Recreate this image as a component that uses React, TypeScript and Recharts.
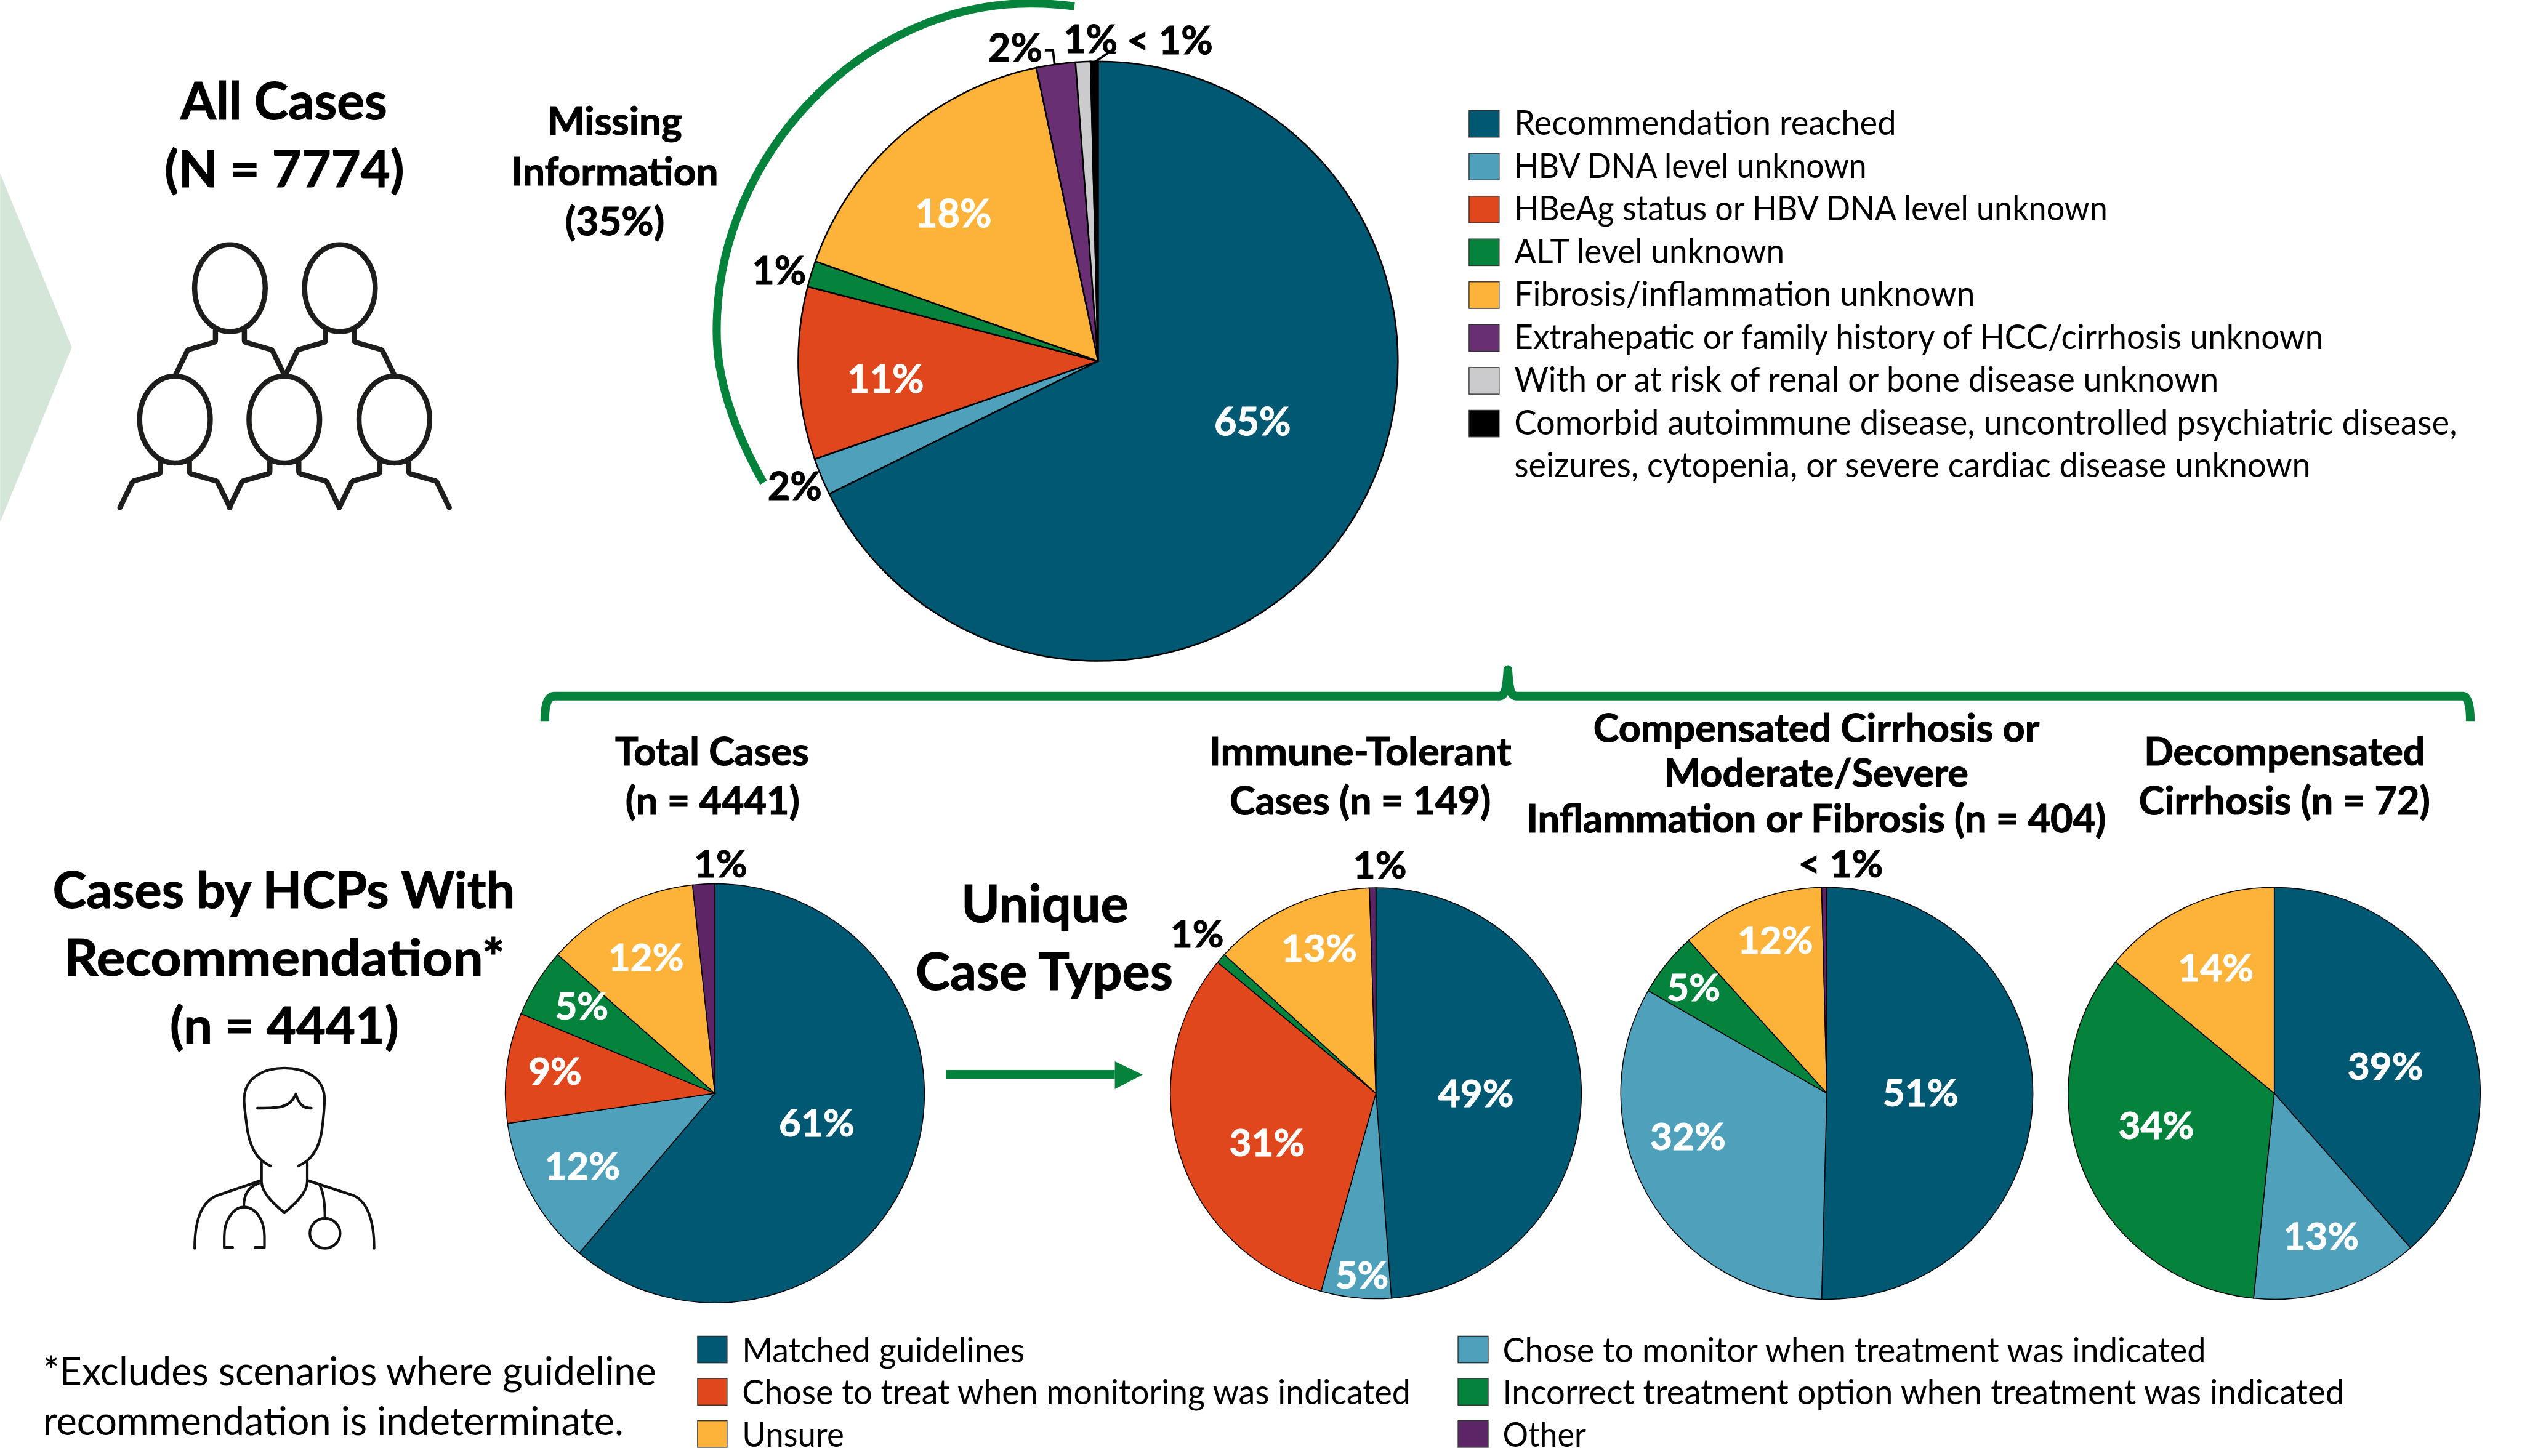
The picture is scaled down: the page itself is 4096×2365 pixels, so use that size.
import { PieChart, Pie, Cell } from "recharts";

const WIDTH = 4096;
const HEIGHT = 2365;
// everything below was measured on the 4357 wide reference
const S = 4096 / 4357;
const FONT = "Lato, 'Open Sans', sans-serif";

const DARK = "#015873";
const BLUE = "#4ea0bb";
const RED = "#e0471d";
const GREEN = "#05833c";
const AMBER = "#fdb339";
const PURPLE = "#5c2566";
const PURPLE_MAIN = "#682f73";
const GREY = "#cbcbcd";
const BLACK = "#000000";

// All cases
const mainNames = [
  "Recommendation reached",
  "HBV DNA level unknown",
  "HBeAg status or HBV DNA level unknown",
  "ALT level unknown",
  "Fibrosis/inflammation unknown",
  "Extrahepatic or family history of HCC/cirrhosis unknown",
  "With or at risk of renal or bone disease unknown",
  "Comorbid autoimmune disease, uncontrolled psychiatric disease,",
];
const mainValues = [67.7, 2.0, 9.3, 1.4, 16.3, 2.1, 0.8, 0.4];
const mainColors = [DARK, BLUE, RED, GREEN, AMBER, PURPLE_MAIN, GREY, BLACK];
const mainLabels = ["65%", "2%", "11%", "1%", "18%", "2%", "1%", "< 1%"];

// Cases by HCPs with recommendation
const totalValues = [61.2, 11.5, 8.5, 5.3, 11.8, 1.7];
const totalColors = [DARK, BLUE, RED, GREEN, AMBER, PURPLE];
const totalLabels = ["61%", "12%", "9%", "5%", "12%", "1%"];

const immuneValues = [48.8, 5.5, 31.7, 0.8, 12.7, 0.5];
const immuneColors = [DARK, BLUE, RED, GREEN, AMBER, PURPLE];
const immuneLabels = ["49%", "5%", "31%", "1%", "13%", "1%"];

const compValues = [50.4, 32.9, 5.0, 11.3, 0.4];
const compColors = [DARK, BLUE, GREEN, AMBER, PURPLE];
const compLabels = ["51%", "32%", "5%", "12%", "< 1%"];

const decompValues = [38.5, 13.1, 34.4, 14.0];
const decompColors = [DARK, BLUE, GREEN, AMBER];
const decompLabels = ["39%", "13%", "34%", "14%"];

// Where each percentage sits: centre x, baseline y, on the reference
const mainSpots = [[2164, 752], [1373, 864], [1530, 679], [1346, 491], [1647, 392], [1754, 106], [1884, 92], [2021, 94]];
const totalSpots = [[1411, 1964], [1006, 2038], [959, 1874], [1005, 1761], [1116, 1678], [1245, 1516]];
const immuneSpots = [[2550, 1913], [2353, 2226], [2189, 1998], [2068, 1637], [2279, 1662], [2384, 1518]];
const compSpots = [[3318, 1912], [2916, 1987], [2926, 1730], [3067, 1648], [3180, 1516]];
const decompSpots = [[4121, 1866], [4010, 2159], [3725, 1968], [3828, 1696]];

// Text widths, the font here runs a little different
const mainNameWidths = [660, 609, 1025, 467, 796, 1398, 1217, 1629];
const lowerLeftNames = ["Matched guidelines", "Chose to treat when monitoring was indicated", "Unsure"];
const lowerLeftColors = [DARK, RED, AMBER];
const lowerLeftWidths = [488, 1155, 176];
const lowerRightNames = ["Chose to monitor when treatment was indicated", "Incorrect treatment option when treatment was indicated", "Other"];
const lowerRightColors = [BLUE, GREEN, PURPLE];
const lowerRightWidths = [1215, 1454, 144];

function toData(values: number[], colors: string[]) {
  return values.map((value, i) => ({ name: `s${i}`, value, color: colors[i] }));
}

// Labels in the big slices are white, the ones outside the pie black
function labelFor(labels: string[], spots: number[][], size: number, outside: number[]) {
  return (props: any) => {
    const i = props.index;
    const color = outside.includes(i) ? "#000" : "#fff";
    return (
      <text
        x={spots[i][0] * S}
        y={spots[i][1] * S}
        textAnchor="middle"
        fontFamily={FONT}
        fontWeight={700}
        fontSize={size * S}
        fill={color}
        stroke={color}
        strokeWidth={1}
      >
        {labels[i]}
      </text>
    );
  };
}

function PieSeries(data: any[], cx: number, cy: number, r: number, sw: number, label: any) {
  return (
    <Pie
      key={cx}
      data={data}
      dataKey="value"
      cx={cx * S}
      cy={cy * S}
      outerRadius={r * S}
      startAngle={90}
      endAngle={-270}
      stroke="#000"
      strokeWidth={sw}
      label={label}
      labelLine={false}
      isAnimationActive={false}
    >
      {data.map((d) => (
        <Cell key={d.name} fill={d.color} />
      ))}
    </Pie>
  );
}

function Txt({ x, y, size, bold, anchor, width, children }: any) {
  const fit = width ? { textLength: width, lengthAdjust: "spacingAndGlyphs" } : {};
  const heavy = bold ? { stroke: "#000", strokeWidth: 1.2 } : {};
  return (
    <text x={x} y={y} fontSize={size} fontWeight={bold ? 700 : 400} textAnchor={anchor ?? "middle"} fontFamily={FONT} fill="#000" {...fit} {...heavy}>
      {children}
    </text>
  );
}

function Person({ x, y }: { x: number; y: number }) {
  const side = (m: number) => `M${x + 25 * m} ${y + 73} V${y + 90} Q${x + 25 * m} ${y + 93} ${x + 29 * m} ${y + 94} L${x + 71 * m} ${y + 106} Q${x + 73 * m} ${y + 107} ${x + 74 * m} ${y + 109} L${x + 95 * m} ${y + 152}`;
  return (
    <g fill="none" stroke="#1d1d1b" strokeWidth={9} strokeLinecap="round" strokeLinejoin="round">
      <ellipse cx={x} cy={y} rx={61} ry={75} />
      <path d={side(-1)} />
      <path d={side(1)} />
    </g>
  );
}

function Doctor() {
  // drawn in the crop's own units, then placed
  return (
    <g transform="translate(0,1450) scale(0.6378,0.6798)" fill="none" stroke="#111" strokeWidth={7} strokeLinecap="round" strokeLinejoin="round">
      <path d="M733 831 C690 815 672 770 667 720 C660 670 660 660 662 650 C668 605 715 582 770 582 C825 582 872 605 878 650 C880 665 878 690 873 730 C868 775 850 815 807 831" />
      <path d="M697 684 C750 684 785 685 801 648 C810 675 820 684 843 684" />
      <path d="M708 822 V870 C708 900 745 930 770 950 C795 930 832 900 832 870 V822" />
      <path d="M706 868 L590 905 C545 920 527 970 527 1040" />
      <path d="M834 868 L955 905 C995 920 1013 970 1013 1040" />
      <path d="M700 875 C670 885 660 905 660 935" />
      <path d="M630 1038 H607 V1010 C607 965 635 935 660 935 C690 935 716 965 716 1010 V1038 H690" />
      <path d="M866 880 C878 900 880 935 880 965" />
      <ellipse cx={880} cy={1002} rx={41} ry={38} />
    </g>
  );
}

export default function App() {
  return (
    <div style={{ position: "absolute", left: 0, top: 0, width: WIDTH, height: HEIGHT, background: "#fff", overflow: "hidden" }}>
      <div style={{ position: "absolute", left: 0, top: 0 }}>
        <PieChart width={WIDTH} height={HEIGHT} margin={{ top: 0, right: 0, bottom: 0, left: 0 }}>
          {PieSeries(toData(mainValues, mainColors), 1897, 624, 518, 2.5, labelFor(mainLabels, mainSpots, 67, [1, 3, 5, 6, 7]))}
          {PieSeries(toData(totalValues, totalColors), 1235, 1889, 362, 1.5, labelFor(totalLabels, totalSpots, 66, [5]))}
          {PieSeries(toData(immuneValues, immuneColors), 2377, 1889, 355, 1.5, labelFor(immuneLabels, immuneSpots, 66, [3, 5]))}
          {PieSeries(toData(compValues, compColors), 3156, 1889, 356, 1.5, labelFor(compLabels, compSpots, 66, [4]))}
          {PieSeries(toData(decompValues, decompColors), 3929, 1889, 356, 1.5, labelFor(decompLabels, decompSpots, 66, []))}
        </PieChart>
      </div>
      <svg viewBox="0 0 4357 2516" width={WIDTH} height={HEIGHT} style={{ position: "absolute", left: 0, top: 0 }}>
        <polygon points="0,300 124,600 0,902" fill="#d3e6d8" />

        <Txt x={490} y={206} size={89} bold>All Cases</Txt>
        <Txt x={491} y={323} size={88} bold>(N = 7774)</Txt>
        <Person x={397} y={498} />
        <Person x={587} y={498} />
        <Person x={302} y={725} />
        <Person x={491} y={725} />
        <Person x={681} y={725} />

        <Txt x={1062} y={233} size={68} bold>Missing</Txt>
        <Txt x={1062} y={320} size={68} bold>Information</Txt>
        <Txt x={1062} y={406} size={68} bold>(35%)</Txt>
        <path d="M1319 834 C1265 740 1238 650 1238 572 C1238 260 1500 3 1783 6 C1810 6 1835 8 1856 11" fill="none" stroke={GREEN} strokeWidth={14} />
        <path d="M1805 87 H1819 L1822 113" fill="none" stroke="#000" strokeWidth={4} />
        <path d="M1928 91 H1915 L1890 108" fill="none" stroke="#000" strokeWidth={4} />

        {mainNames.map((name, i) => (
          <g key={name}>
            <rect x={2538} y={191 + i * 74} width={52} height={46} fill={mainColors[i]} stroke="#333" strokeWidth={1.5} />
            <Txt x={2616} y={233 + i * 74} size={59} anchor="start" width={mainNameWidths[i]}>{name}</Txt>
          </g>
        ))}
        <Txt x={2616} y={825} size={59} anchor="start" width={1376}>seizures, cytopenia, or severe cardiac disease unknown</Txt>

        <path d="M941 1246 C941 1220 945 1203 958 1203 H2590 C2600 1203 2603 1190 2605 1157 C2607 1190 2610 1203 2620 1203 H4255 C4264 1203 4268 1220 4268 1246" fill="none" stroke={GREEN} strokeWidth={15} strokeLinejoin="round" />

        <Txt x={490} y={1569} size={88} bold>Cases by HCPs With</Txt>
        <Txt x={491} y={1686} size={88} bold width={762}>Recommendation*</Txt>
        <Txt x={491} y={1803} size={88} bold>(n = 4441)</Txt>
        <Doctor />

        <Txt x={1230} y={1322} size={67} bold>Total Cases</Txt>
        <Txt x={1231} y={1408} size={67} bold>(n = 4441)</Txt>
        <Txt x={2350} y={1322} size={67} bold width={522}>Immune-Tolerant</Txt>
        <Txt x={2350} y={1408} size={67} bold>Cases (n = 149)</Txt>
        <Txt x={3138} y={1282} size={67} bold>Compensated Cirrhosis or</Txt>
        <Txt x={3138} y={1360} size={67} bold>Moderate/Severe</Txt>
        <Txt x={3138} y={1438} size={67} bold>Inflammation or Fibrosis (n = 404)</Txt>
        <Txt x={3947} y={1322} size={67} bold>Decompensated</Txt>
        <Txt x={3947} y={1408} size={67} bold>Cirrhosis (n = 72)</Txt>

        <Txt x={1805} y={1594} size={90} bold>Unique</Txt>
        <Txt x={1804} y={1711} size={90} bold>Case Types</Txt>
        <rect x={1634} y={1849} width={292} height={15} fill={GREEN} />
        <polygon points="1926,1834 1974,1857 1926,1882" fill={GREEN} />

        <Txt x={74} y={2394} size={67} anchor="start">*Excludes scenarios where guideline</Txt>
        <Txt x={74} y={2480} size={67} anchor="start">recommendation is indeterminate.</Txt>

        {lowerLeftNames.map((name, i) => (
          <g key={name}>
            <rect x={1205} y={2309 + i * 73} width={51} height={46} fill={lowerLeftColors[i]} stroke="#333" strokeWidth={1.5} />
            <Txt x={1282} y={2354 + i * 73} size={59} anchor="start" width={lowerLeftWidths[i]}>{name}</Txt>
          </g>
        ))}
        {lowerRightNames.map((name, i) => (
          <g key={name}>
            <rect x={2519} y={2309 + i * 73} width={52} height={46} fill={lowerRightColors[i]} stroke="#333" strokeWidth={1.5} />
            <Txt x={2596} y={2354 + i * 73} size={59} anchor="start" width={lowerRightWidths[i]}>{name}</Txt>
          </g>
        ))}
      </svg>
    </div>
  );
}
